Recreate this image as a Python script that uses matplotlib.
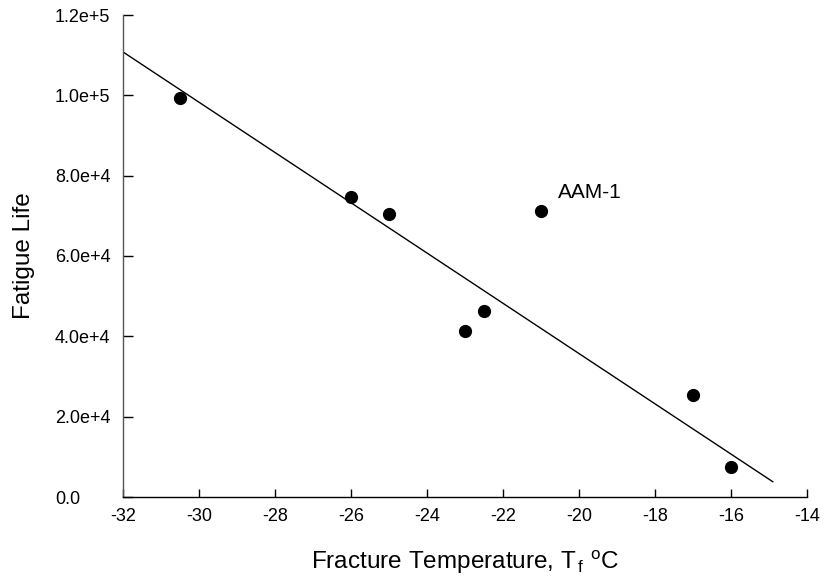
import matplotlib
matplotlib.use("Agg")
import matplotlib.pyplot as plt
from matplotlib.ticker import FuncFormatter, MultipleLocator

plt.rcParams['font.family'] = ['Liberation Sans', 'DejaVu Sans']
plt.rcParams['mathtext.fontset'] = 'custom'
plt.rcParams['mathtext.rm'] = 'Liberation Sans'
plt.rcParams['mathtext.it'] = 'Liberation Sans'
plt.rcParams['mathtext.default'] = 'regular'

# Data
temp = [-30.5, -26.0, -25.0, -23.0, -22.5, -21.0, -17.0, -16.0]
life = [99400, 74700, 70500, 41300, 46300, 71300, 25400, 7400]
fit_x = [-32.0, -14.9]
fit_y = [110800, 3800]
label_text = "AAM-1"
label_pos = (-20.55, 75900)

fig = plt.figure(figsize=(8.25, 5.84), dpi=100)
ax = fig.add_axes([123/825, 1-497/584, (807-123)/825, (497-15)/584])

ax.plot(fit_x, fit_y, color='black', lw=1.0)
ax.plot(temp, life, 'o', color='black', ms=8.5, zorder=3)
ax.text(label_pos[0], label_pos[1], label_text, fontsize=15, ha='left', va='center')

ax.set_xlim(-32, -14)
ax.set_ylim(0, 120000)
ax.xaxis.set_major_locator(MultipleLocator(2))
ax.yaxis.set_major_locator(MultipleLocator(20000))

def yfmt(v, pos):
    if v == 0:
        return "0.0"
    s = "%.1e" % v
    m, e = s.split('e')
    return "%se+%d" % (m, int(e))

ax.yaxis.set_major_formatter(FuncFormatter(yfmt))
ax.xaxis.set_major_formatter(FuncFormatter(lambda v, p: "%d" % v))

ax.spines['top'].set_visible(False)
ax.spines['right'].set_visible(False)
ax.spines['left'].set_color('#555555')
ax.spines['left'].set_linewidth(1.0)
ax.spines['bottom'].set_linewidth(1.0)

ax.tick_params(axis='x', direction='in', length=6, width=1, labelsize=13, pad=8)
ax.tick_params(axis='y', direction='in', length=7, width=1, labelsize=13, pad=49)
for lab in ax.get_yticklabels():
    lab.set_horizontalalignment('left')

ax.set_xlabel("Fracture Temperature, T$_{\\,f}$ $^{o}$C", fontsize=17.5, labelpad=17)
ax.set_ylabel("Fatigue Life", fontsize=17.5)
ax.yaxis.set_label_coords(-0.1287, 0.5)

fig.savefig("out.png", dpi=100)
